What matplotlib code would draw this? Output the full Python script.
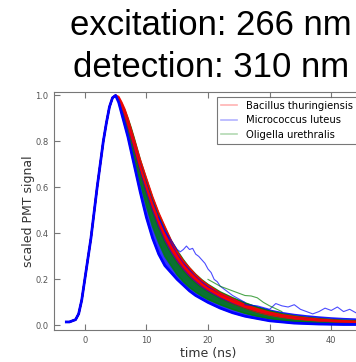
import matplotlib
matplotlib.use("Agg")
import matplotlib.pyplot as plt

# time axis (ns) shared by all traces
t = [-3, -2.5, -2, -1.5, -1, -0.5, 0, 0.5, 1, 1.5, 2, 2.5, 3, 3.5, 4, 4.5, 5,
     5.5, 6, 6.5, 7, 7.5, 8, 9, 10, 11, 12, 13, 14, 15, 16, 17, 18, 19, 20,
     22, 24, 26, 28, 30, 32, 34, 36, 38, 40, 42, 45]

rise = [0.015, 0.015, 0.02, 0.025, 0.05, 0.11, 0.2, 0.29, 0.38, 0.49, 0.6,
        0.7, 0.8, 0.88, 0.95, 0.99, 1.0]

# decay part (t >= 5.5) of the envelopes
blue_lo = [0.97, 0.92, 0.87, 0.82, 0.76, 0.70, 0.58, 0.47, 0.38, 0.31, 0.26,
           0.23, 0.20, 0.175, 0.15, 0.13, 0.115, 0.10, 0.075, 0.055, 0.04,
           0.03, 0.02, 0.015, 0.01, 0.008, 0.006, 0.005, 0.004, 0.004]
blue_hi = [0.985, 0.96, 0.93, 0.89, 0.85, 0.80, 0.71, 0.62, 0.54, 0.47, 0.41,
           0.355, 0.31, 0.27, 0.24, 0.215, 0.19, 0.17, 0.14, 0.115, 0.095,
           0.08, 0.066, 0.055, 0.047, 0.041, 0.036, 0.032, 0.029, 0.026]
green_lo = [0.975, 0.93, 0.885, 0.835, 0.78, 0.73, 0.62, 0.52, 0.43, 0.36,
            0.3, 0.26, 0.22, 0.19, 0.165, 0.145, 0.128, 0.113, 0.09, 0.07,
            0.053, 0.04, 0.03, 0.022, 0.017, 0.013, 0.01, 0.008, 0.007, 0.006]
green_hi = [0.99, 0.965, 0.935, 0.9, 0.86, 0.815, 0.72, 0.635, 0.555, 0.485,
            0.425, 0.37, 0.325, 0.285, 0.25, 0.222, 0.198, 0.178, 0.145,
            0.12, 0.098, 0.078, 0.062, 0.05, 0.041, 0.034, 0.029, 0.025,
            0.022, 0.019]
red_lo = [0.982, 0.948, 0.91, 0.865, 0.815, 0.765, 0.665, 0.58, 0.5, 0.43,
          0.37, 0.322, 0.28, 0.245, 0.215, 0.19, 0.168, 0.15, 0.12, 0.095,
          0.075, 0.058, 0.045, 0.036, 0.029, 0.024, 0.02, 0.017, 0.015, 0.012]
red_hi = [0.995, 0.97, 0.94, 0.9, 0.855, 0.81, 0.72, 0.64, 0.56, 0.49, 0.43,
          0.37, 0.32, 0.28, 0.25, 0.22, 0.195, 0.175, 0.14, 0.115, 0.09,
          0.072, 0.057, 0.046, 0.038, 0.032, 0.027, 0.023, 0.02, 0.017]

# single traces running through the middle of the bundle
blue_mid = [0.98, 0.95, 0.91, 0.865, 0.82, 0.77, 0.67, 0.58, 0.5, 0.43, 0.37,
            0.32, 0.28, 0.245, 0.215, 0.19, 0.168, 0.15, 0.12, 0.097, 0.078,
            0.062, 0.05, 0.04, 0.033, 0.027, 0.022, 0.018, 0.015, 0.012]
green_mid = [0.98, 0.945, 0.905, 0.86, 0.81, 0.76, 0.66, 0.57, 0.49, 0.42,
             0.36, 0.31, 0.27, 0.236, 0.207, 0.183, 0.162, 0.145, 0.116,
             0.093, 0.074, 0.059, 0.047, 0.038, 0.031, 0.025, 0.021, 0.018,
             0.015, 0.013]
red_mid = [0.985, 0.955, 0.92, 0.875, 0.83, 0.785, 0.69, 0.605, 0.525, 0.455,
           0.395, 0.345, 0.3, 0.262, 0.232, 0.205, 0.18, 0.16, 0.128, 0.102,
           0.08, 0.063, 0.05, 0.04, 0.032, 0.026, 0.022, 0.019, 0.016, 0.013]

# a few noisy single traces that stick out of the bands
blue_bump_t = [12, 13, 14, 15, 15.5, 16, 16.5, 17, 17.5, 18, 18.5, 19, 19.5,
               20, 20.5, 21, 21.5, 22, 23, 24, 26]
blue_bump_y = [0.47, 0.41, 0.37, 0.33, 0.32, 0.33, 0.345, 0.33, 0.335, 0.31,
               0.3, 0.285, 0.27, 0.245, 0.23, 0.2, 0.19, 0.17, 0.15, 0.13, 0.1]
blue_tail_t = [26, 28, 30, 31, 32, 33, 34, 35, 36, 37, 38, 39, 40, 41, 42, 43,
               44, 45]
blue_tail_y = [0.09, 0.085, 0.07, 0.095, 0.085, 0.08, 0.09, 0.07, 0.06, 0.05,
               0.06, 0.075, 0.065, 0.08, 0.06, 0.07, 0.055, 0.05]
green_out_t = [20, 21, 22, 23, 24, 25, 26, 27, 28, 29, 30, 32]
green_out_y = [0.2, 0.185, 0.17, 0.16, 0.15, 0.14, 0.13, 0.128, 0.12, 0.1,
               0.085, 0.06]

species = ["Bacillus thuringiensis", "Micrococcus luteus", "Oligella urethralis"]
colors = ["r", "b", "g"]

fig = plt.figure(figsize=(3.56, 3.62), dpi=100)
ax = fig.add_axes([0.1517, 0.0884, 0.8652, 0.6575])

lo_all = {"b": rise + blue_lo, "g": rise + green_lo, "r": rise + red_lo}
hi_all = {"b": rise + blue_hi, "g": rise + green_hi, "r": rise + red_hi}
mid_all = {"b": rise + blue_mid, "g": rise + green_mid, "r": rise + red_mid}

band_alpha = {"b": 0.8, "g": 0.8, "r": 0.95}
for c in ["b", "g", "r"]:
    ax.fill_between(t, lo_all[c], hi_all[c], color=c, alpha=band_alpha[c],
                    lw=0)
    ax.plot(t, lo_all[c], color=c, lw=1.2, alpha=0.8)
    ax.plot(t, hi_all[c], color=c, lw=1.2, alpha=0.9)

# interleave some traces on top so the colours mix like the real bundle
for c in ["g", "b"]:
    ax.plot(t, mid_all[c], color=c, lw=0.9, alpha=0.6)
ax.plot(t, mid_all["r"], color="r", lw=1.4, alpha=0.9)

ax.plot(blue_bump_t, blue_bump_y, color="b", lw=0.8, alpha=0.7)
ax.plot(blue_tail_t, blue_tail_y, color="b", lw=0.8, alpha=0.7)
ax.plot(green_out_t, green_out_y, color="g", lw=0.8, alpha=0.7)
ax.plot(t, lo_all["b"], color="b", lw=2.0)

for name, c in zip(species, colors):
    ax.plot([], [], color=c, alpha=0.3, lw=1.2, label=name)

ax.set_xlim(-5, 45)
ax.set_ylim(-0.02, 1.015)
ax.set_xticks([0, 10, 20, 30, 40])
ax.set_yticks([0.0, 0.2, 0.4, 0.6, 0.8, 1.0])
ax.set_yticklabels(["0.0", "0.2", "0.4", "0.6", "0.8", "1.0"])
ax.tick_params(direction="in", top=True, right=True, length=4,
               color="#777777", labelsize=6, labelcolor="#555555", pad=4)
for s in ax.spines.values():
    s.set_color("#777777")

ax.set_xlabel("time (ns)", fontsize=9, color="#333333", labelpad=2)
ax.set_ylabel("scaled PMT signal", fontsize=9, color="#333333", labelpad=0)

leg = ax.legend(loc="upper right", fontsize=7.2, frameon=True, fancybox=False,
                handlelength=1.6, handletextpad=0.9, borderaxespad=0.5,
                labelspacing=0.45)
leg.get_frame().set_edgecolor("#555555")
leg.get_frame().set_linewidth(0.8)

fig.text(0.197, 0.903, "excitation: 266 nm", fontsize=25,
         family="Liberation Sans", ha="left", va="baseline")
fig.text(0.205, 0.787, "detection: 310 nm", fontsize=25,
         family="Liberation Sans", ha="left", va="baseline")

fig.savefig("out.png", dpi=100)
